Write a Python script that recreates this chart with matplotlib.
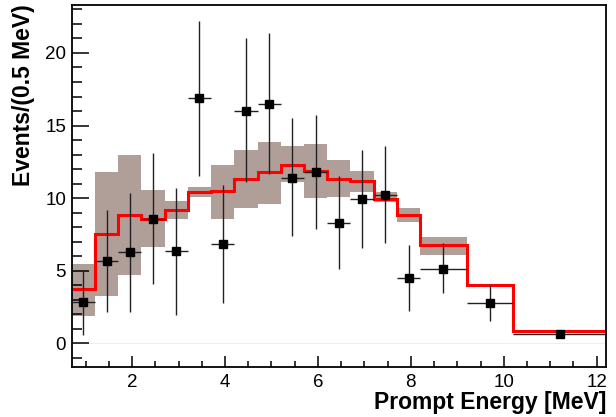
import matplotlib.pyplot as plt
import numpy as np
from matplotlib.ticker import MultipleLocator

plt.rcParams['font.family'] = ['Liberation Sans', 'DejaVu Sans']

# bin edges in MeV (0.5 MeV bins, wider at high energy)
edges = [0.7, 1.2, 1.7, 2.2, 2.7, 3.2, 3.7, 4.2, 4.7, 5.2, 5.7, 6.2,
         6.7, 7.2, 7.7, 8.2, 9.2, 10.2, 12.2]

# prediction (red histogram) and its systematic band
pred = [3.75, 7.55, 8.85, 8.6, 9.2, 10.45, 10.5, 11.3, 11.8, 12.3, 11.85,
        11.3, 11.15, 9.95, 8.85, 6.75, 4.0, 0.83]
band_hi = [5.5, 11.8, 13.0, 10.55, 9.8, 10.75, 12.3, 13.3, 13.9, 13.6, 13.7,
           12.6, 11.85, 10.4, 9.35, 7.3, 4.05, 0.86]
band_lo = [1.9, 3.25, 4.7, 6.65, 8.55, 10.1, 8.6, 9.35, 9.6, 11.1, 10.0,
           10.05, 10.45, 9.75, 8.35, 6.1, 3.95, 0.7]

# data points with asymmetric errors
data = [2.85, 5.7, 6.3, 8.6, 6.35, 16.9, 6.85, 16.0, 16.5, 11.4, 11.8,
        8.3, 9.95, 10.2, 4.5, 5.15, 2.8, 0.62]
data_hi = [5.07, 9.2, 10.35, 13.1, 10.7, 22.2, 10.9, 21.0, 21.4, 15.5, 15.75,
           11.5, 13.3, 13.6, 6.8, 6.9, 4.0, 0.85]
data_lo = [0.6, 2.2, 2.2, 4.1, 1.94, 11.55, 2.8, 11.1, 11.7, 7.4, 7.9,
           5.1, 6.6, 6.9, 2.25, 3.5, 1.55, 0.45]

e = np.array(edges)
xc = 0.5 * (e[1:] + e[:-1])
xw = 0.5 * (e[1:] - e[:-1])
y = np.array(data)

fig = plt.figure(figsize=(6.16, 4.17), dpi=100)
ax = fig.add_axes([71.7 / 616, 1 - 366.7 / 417, (606 - 71.7) / 616, (366.7 - 5) / 417])

ax.axhline(0, color='#eeeeee', lw=0.8, zorder=0)
ax.stairs(band_hi, edges, baseline=band_lo, fill=True, color='#b09e98', lw=0, zorder=1)
ax.stairs(pred, edges, color='#ff0000', lw=2.2, baseline=None, zorder=2)
ax.errorbar(xc, y, yerr=[y - np.array(data_lo), np.array(data_hi) - y], xerr=xw,
            fmt='s', color='black', ecolor='#222222', ms=5.5, elinewidth=1.0,
            capsize=0, zorder=3)

ax.set_xlim(0.7, 12.2)
ax.set_ylim(-1.6, 23.3)
ax.xaxis.set_major_locator(MultipleLocator(2))
ax.xaxis.set_minor_locator(MultipleLocator(0.5))
ax.yaxis.set_major_locator(MultipleLocator(5))
ax.yaxis.set_minor_locator(MultipleLocator(1))
ax.tick_params(which='both', direction='in', top=False, right=False, labelsize=13.5, width=1.1)
ax.tick_params(axis='y', which='major', length=12, pad=4)
ax.tick_params(axis='y', which='minor', length=7)
ax.tick_params(axis='x', which='major', length=8, pad=5)
ax.tick_params(axis='x', which='minor', length=4.5)
for s in ax.spines.values():
    s.set_linewidth(1.3)

fig.text(24 / 616, 1 - 4 / 417, 'Events/(0.5 MeV)', rotation=90, ha='center', va='top',
         fontsize=16.5, fontweight='bold')
fig.text(606 / 616, 1 - 402 / 417, 'Prompt Energy [MeV]', ha='right', va='center',
         fontsize=16.5, fontweight='bold')

fig.savefig('out.png', dpi=100)
